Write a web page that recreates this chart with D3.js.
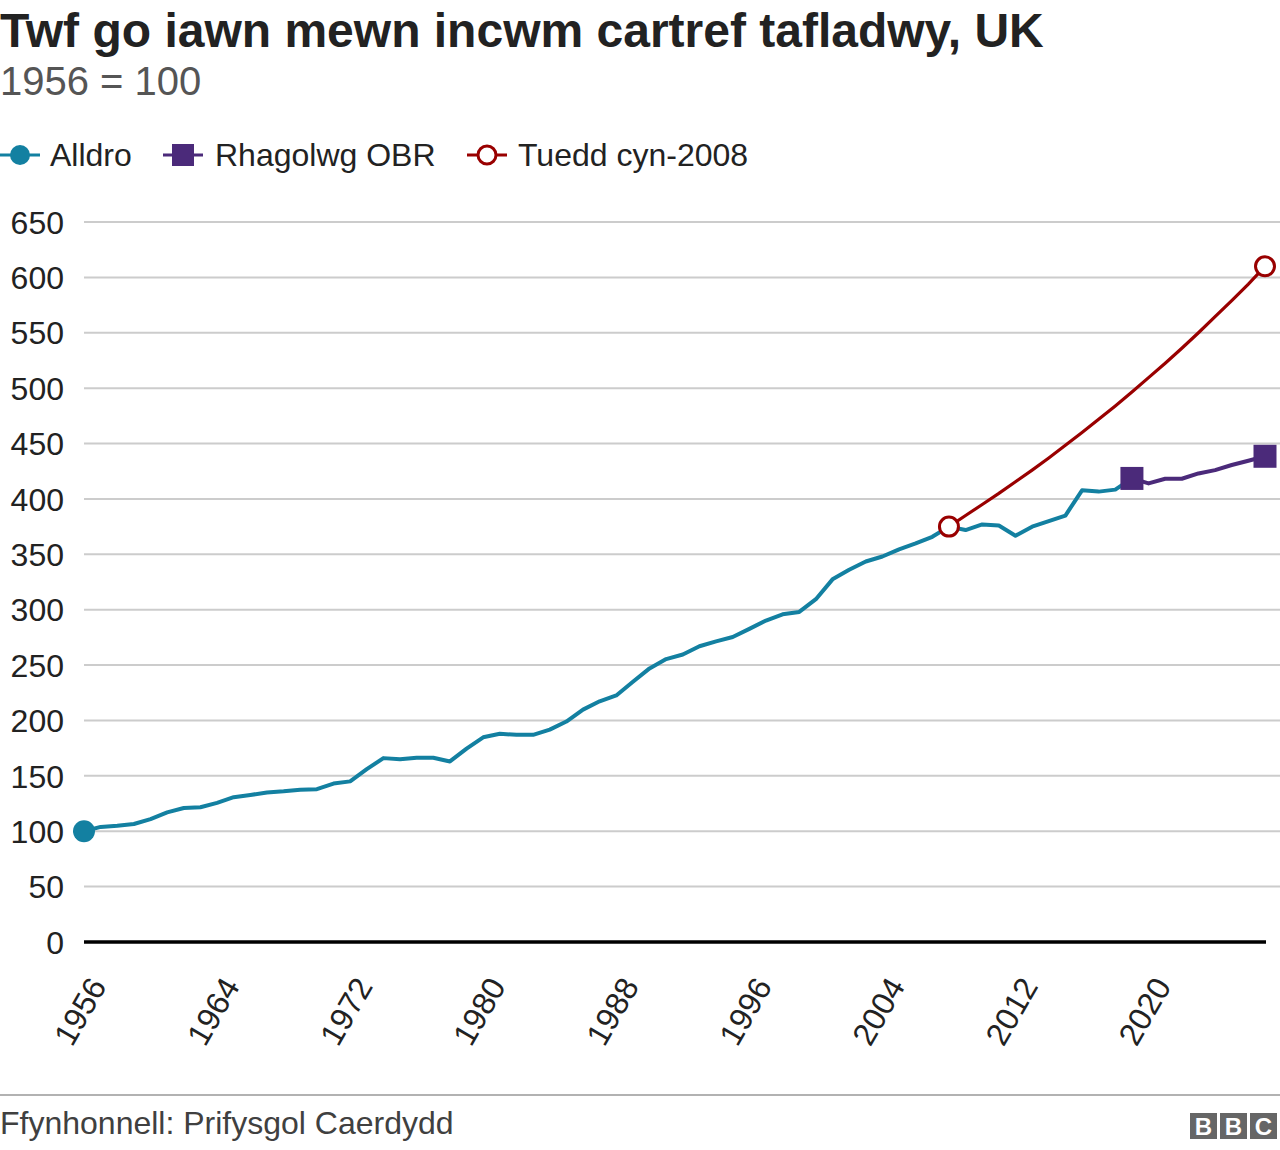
<!DOCTYPE html>
<html><head><meta charset="utf-8">
<script src="https://cdn.jsdelivr.net/npm/d3@7"></script>
<style>
body{margin:0;background:#fff;font-family:"Liberation Sans",Arial,Helvetica,sans-serif;}
svg text{font-family:"Liberation Sans",Arial,Helvetica,sans-serif;}
</style></head>
<body>
<svg id="chart" width="1280" height="1150"></svg>
<script>
const title = "Twf go iawn mewn incwm cartref tafladwy, UK";
const subtitle = "1956 = 100";
const source = "Ffynhonnell: Prifysgol Caerdydd";
const seriesNames = ["Alldro", "Rhagolwg OBR", "Tuedd cyn-2008"];
const seriesColors = ["#1380A1", "#4B2A7A", "#990000"];

const outturnYears = d3.range(1956, 2020);
const outturnValues = [100, 103.9, 105, 106.5, 111, 117, 121, 121.7, 125.6, 130.7,
  132.7, 135, 136, 137.5, 138, 143, 145, 156, 166, 165,
  166.4, 166.4, 163, 174.6, 184.8, 188, 187, 187, 191.7, 199,
  209.8, 217.3, 222.6, 235, 247, 255.4, 259.5, 267, 271.4, 275.3,
  282.7, 290.2, 295.8, 298, 309.5, 327.4, 336, 343.5, 348, 354.5,
  359.8, 365.8, 375, 371.9, 377, 376, 366.8, 374.9, 380, 385,
  407.8, 406.6, 408.4, 418.5];
const obrYears = d3.range(2019, 2028);
const obrValues = [418.5, 414, 418.2, 418.2, 423, 426, 430.6, 434.5, 438.5];
const trendYears = d3.range(2008, 2028);
const trendValues = [375, 385, 395, 405, 415.5, 426, 437, 448.5, 460, 472,
  484, 496.5, 509.5, 522.5, 536, 550, 564.5, 579, 594, 610];
const yTicks = [0, 50, 100, 150, 200, 250, 300, 350, 400, 450, 500, 550, 600, 650];
const xTicks = [1956, 1964, 1972, 1980, 1988, 1996, 2004, 2012, 2020];

const svg = d3.select("#chart");
const x = d3.scaleLinear().domain([1956, 2027]).range([84, 1265]);
const y = d3.scaleLinear().domain([0, 650]).range([942, 222]);

svg.append("text").attr("x", 0).attr("y", 47).attr("font-size", 48).attr("font-weight", "bold")
  .attr("fill", "#222").text(title);
svg.append("text").attr("x", 0).attr("y", 95).attr("font-size", 40).attr("fill", "#555").text(subtitle);

// legend
const lg = svg.append("g");
const legendItems = [
  {x: 0, tx: 50, shape: "dot"},
  {x: 163, tx: 215, shape: "square"},
  {x: 467, tx: 518, shape: "ring"}
];
legendItems.forEach((it, i) => {
  lg.append("line").attr("x1", it.x).attr("x2", it.x + 40).attr("y1", 155).attr("y2", 155)
    .attr("stroke", seriesColors[i]).attr("stroke-width", 3);
  const cx = it.x + 20;
  if (it.shape === "dot") lg.append("circle").attr("cx", cx).attr("cy", 155).attr("r", 10).attr("fill", seriesColors[i]);
  if (it.shape === "square") lg.append("rect").attr("x", cx - 11).attr("y", 144).attr("width", 22).attr("height", 22).attr("fill", seriesColors[i]);
  if (it.shape === "ring") lg.append("circle").attr("cx", cx).attr("cy", 155).attr("r", 9).attr("fill", "#fff")
    .attr("stroke", seriesColors[i]).attr("stroke-width", 3);
  lg.append("text").attr("x", it.tx).attr("y", 166).attr("font-size", 32).attr("fill", "#222").text(seriesNames[i]);
});

// y axis / grid
const yAxis = d3.axisLeft(y).tickValues(yTicks).tickSize(0).tickPadding(20);
const yg = svg.append("g").attr("transform", "translate(84,0)").call(yAxis);
yg.select(".domain").remove();
yg.selectAll("text").attr("font-size", 32).attr("fill", "#222").attr("x", -20).attr("dy", "0.35em");
svg.append("g").selectAll("line").data(yTicks.filter(d => d !== 0)).join("line")
  .attr("x1", 84).attr("x2", 1280).attr("y1", d => y(d)).attr("y2", d => y(d))
  .attr("stroke", "#cccccc").attr("stroke-width", 2);

// x axis
const xAxis = d3.axisBottom(x).tickValues(xTicks).tickSize(0).tickFormat(d3.format("d"));
const xg = svg.append("g").attr("transform", "translate(0,942)").call(xAxis);
xg.select(".domain").remove();
xg.selectAll("text").attr("font-size", 32).attr("fill", "#222")
  .attr("text-anchor", "end").attr("dy", 0).attr("y", 0)
  .attr("transform", "translate(23,44) rotate(-60)");
svg.append("line").attr("x1", 84).attr("x2", 1266).attr("y1", y(0)).attr("y2", y(0))
  .attr("stroke", "#000").attr("stroke-width", 3.5);

const line = d3.line().x(d => x(d[0])).y(d => y(d[1]));
const outturn = outturnYears.map((yr, i) => [yr, outturnValues[i]]);
const obr = obrYears.map((yr, i) => [yr, obrValues[i]]);
const trend = trendYears.map((yr, i) => [yr, trendValues[i]]);

svg.append("path").datum(trend).attr("d", line).attr("fill", "none").attr("stroke", seriesColors[2]).attr("stroke-width", 3.2);
svg.append("path").datum(outturn).attr("d", line).attr("fill", "none").attr("stroke", seriesColors[0]).attr("stroke-width", 4).attr("stroke-linejoin", "round");
svg.append("path").datum(obr).attr("d", line).attr("fill", "none").attr("stroke", seriesColors[1]).attr("stroke-width", 4).attr("stroke-linejoin", "round");

// markers
svg.append("circle").attr("cx", x(outturn[0][0])).attr("cy", y(outturn[0][1])).attr("r", 11).attr("fill", seriesColors[0]);
[obr[0], obr[obr.length - 1]].forEach(d => {
  svg.append("rect").attr("x", x(d[0]) - 11.5).attr("y", y(d[1]) - 11.5).attr("width", 23).attr("height", 23).attr("fill", seriesColors[1]);
});
[trend[0], trend[trend.length - 1]].forEach(d => {
  svg.append("circle").attr("cx", x(d[0])).attr("cy", y(d[1])).attr("r", 9.5).attr("fill", "#fff")
    .attr("stroke", seriesColors[2]).attr("stroke-width", 3);
});

// footer
svg.append("line").attr("x1", 0).attr("x2", 1280).attr("y1", 1095).attr("y2", 1095).attr("stroke", "#999").attr("stroke-width", 1.5);
svg.append("text").attr("x", 0).attr("y", 1134).attr("font-size", 32).attr("fill", "#404040").text(source);
const bbc = svg.append("g").attr("transform", "translate(1190,1113)");
["B", "B", "C"].forEach((ch, i) => {
  bbc.append("rect").attr("x", i * 30).attr("y", 0).attr("width", 27).attr("height", 26).attr("fill", "#666");
  bbc.append("text").attr("x", i * 30 + 13.5).attr("y", 22).attr("text-anchor", "middle").attr("font-size", 24)
    .attr("font-weight", "bold").attr("fill", "#fff").text(ch);
});
</script>
</body></html>
